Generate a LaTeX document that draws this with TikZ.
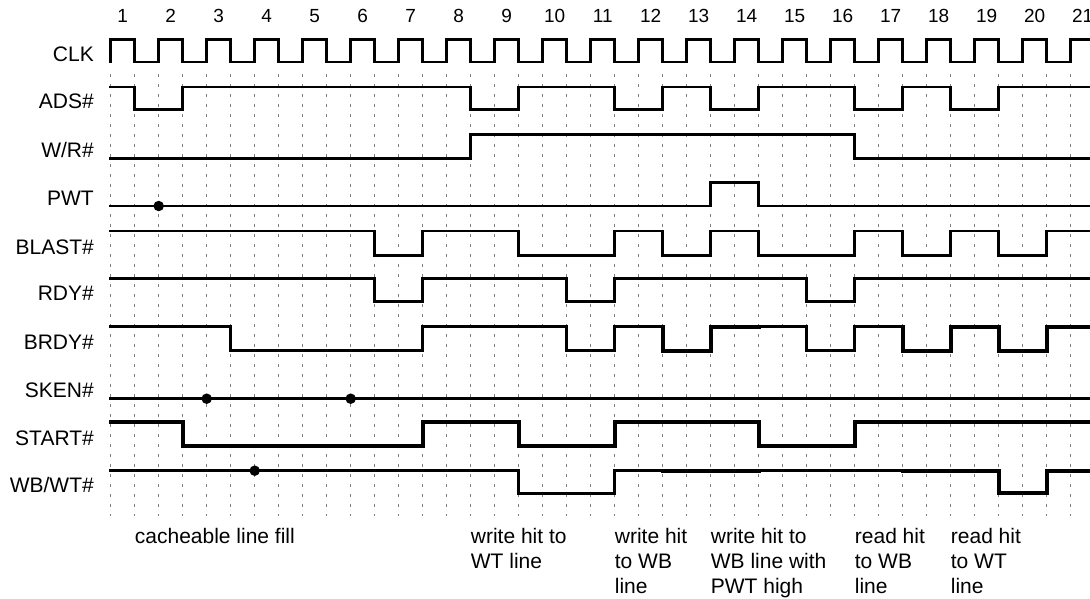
\documentclass[tikz,border=0pt]{standalone}
\usepackage{fontspec}
\setmainfont{Liberation Sans}
\begin{document}
\begin{tikzpicture}[x=1pt,y=-1pt,
  sig/.style={line width=2.6pt, line join=miter, line cap=rect},
  sigthick/.style={line width=4pt, line join=miter, line cap=rect},
  gridline/.style={gray, line width=0.9pt, dash pattern=on 3pt off 7pt},
  lab/.style={font=\fontsize{21}{24}\selectfont, inner sep=0pt, anchor=base east},
  num/.style={font=\fontsize{19}{22}\selectfont, inner sep=0pt, anchor=base},
  note/.style={font=\fontsize{21}{25}\selectfont, inner sep=0pt, anchor=base west, align=left},
  dot/.style={circle, fill=black, inner sep=0pt, minimum size=10.5pt}]
\useasboundingbox (0,0) rectangle (1090,598);
% signal labels
\node[lab] (lclk)   at (94,61)    {CLK};
\node[lab] (lads)   at (94,108.3) {ADS\#};
\node[lab] (lwr)    at (94,157.3) {W/R\#};
\node[lab] (lpwt)   at (94,205)   {PWT};
\node[lab] (lblast) at (94,254.7) {BLAST\#};
\node[lab] (lrdy)   at (94,300.7) {RDY\#};
\node[lab] (lbrdy)  at (94,349.7) {BRDY\#};
\node[lab] (lsken)  at (94,397.7) {SKEN\#};
\node[lab] (lstart) at (94,445)   {START\#};
\node[lab] (lwbwt)  at (94,492.3) {WB/WT\#};
\begin{scope}[shift={(110.7,0)}, x=48pt]
\def\E{20.45}
% grid
\foreach \k in {0,...,40} \draw[gridline] (\k*0.5,74) -- (\k*0.5,516);
% cycle numbers
\foreach \n in {1,...,21} \node[num] (n\n) at (\n-0.75,22.7) {\n};
% CLK
\draw[sig] (0,62) -- (0,39.5) foreach \k in {0,...,19} { -| (\k+0.5,62) -| (\k+1,39.5) } -- (\E,39.5);
% ADS#
\draw[sig] (0,87) -| (0.5,109.3) -| (1.5,87) -| (7.5,109.3) -| (8.5,87) -| (10.5,109.3) -| (11.5,87) -| (12.5,109.3) -| (13.5,87) -| (15.5,109.3) -| (16.5,87) -| (17.5,109.3) -| (18.5,87) -- (\E,87);
% W/R#
\draw[sig] (0,158.3) -| (7.5,134.3) -| (15.5,158.3) -- (\E,158.3);
% PWT
\draw[sig] (0,206) -| (12.5,182.7) -| (13.5,206) -- (\E,206);
\node[dot] (dpwt) at (1,206) {};
% BLAST#
\draw[sig] (0,231) -| (5.5,255.7) -| (6.5,231) -| (8.5,255.7) -| (10.5,231) -| (11.5,255.7) -| (12.5,231) -| (13.5,255.7) -| (15.5,231) -| (16.5,255.7) -| (17.5,231) -| (18.5,255.7) -| (19.5,231) -- (\E,231);
% RDY#
\draw[sig] (0,278.7) -| (5.5,301.7) -| (6.5,278.7) -| (9.5,301.7) -| (10.5,278.7) -| (14.5,301.7) -| (15.5,278.7) -- (\E,278.7);
% BRDY#
\draw[sig] (0,326.7) -| (2.5,350.7) -| (6.5,326.7) -| (9.5,350.7) -| (10.5,326.7) -- (11.5,326.7);
\draw[sigthick] (11.5,326.7) -- (11.5,350.7) -| (12.5,326.7) -- (13.5,326.7);
\draw[sig] (13.5,326.7) -| (14.5,350.7) -| (15.5,326.7) -- (16.5,326.7);
\draw[sigthick] (16.5,326.7) -- (16.5,350.7) -| (17.5,326.7) -| (18.5,350.7) -| (19.5,326.7) -- (\E,326.7);
% SKEN#
\draw[sig] (0,398.7) -- (\E,398.7);
\node[dot] (dsken1) at (2,398.7) {};
\node[dot] (dsken2) at (5,398.7) {};
% START#
\draw[sigthick] (0,422.3) -| (1.5,446) -| (6.5,422.3) -| (8.5,446) -| (10.5,422.3) -| (13.5,446) -| (15.5,422.3) -- (\E,422.3);
% WB/WT#
\draw[sig] (0,470.7) -| (8.5,493.3) -| (10.5,470.7) -- (11.5,470.7);
\draw[sigthick] (11.5,470.7) -- (13.5,470.7);
\draw[sig] (13.5,470.7) -- (16.5,470.7);
\draw[sigthick] (16.5,470.7) -| (18.5,493.3) -| (19.5,470.7) -- (\E,470.7);
\node[dot] (dwbwt) at (3,470.7) {};
% notes (anchor = baseline of last line)
\node[note] (t1) at (0.5,543)  {cacheable line fill};
\node[note] (t2) at (7.5,568)  {write hit to\\WT line};
\node[note] (t3) at (10.5,593) {write hit\\to WB\\line};
\node[note] (t4) at (12.5,593) {write hit to\\WB line with\\PWT high};
\node[note] (t5) at (15.5,593) {read hit\\to WB\\line};
\node[note] (t6) at (17.5,593) {read hit\\to WT\\line};
\end{scope}
\end{tikzpicture}
\end{document}
